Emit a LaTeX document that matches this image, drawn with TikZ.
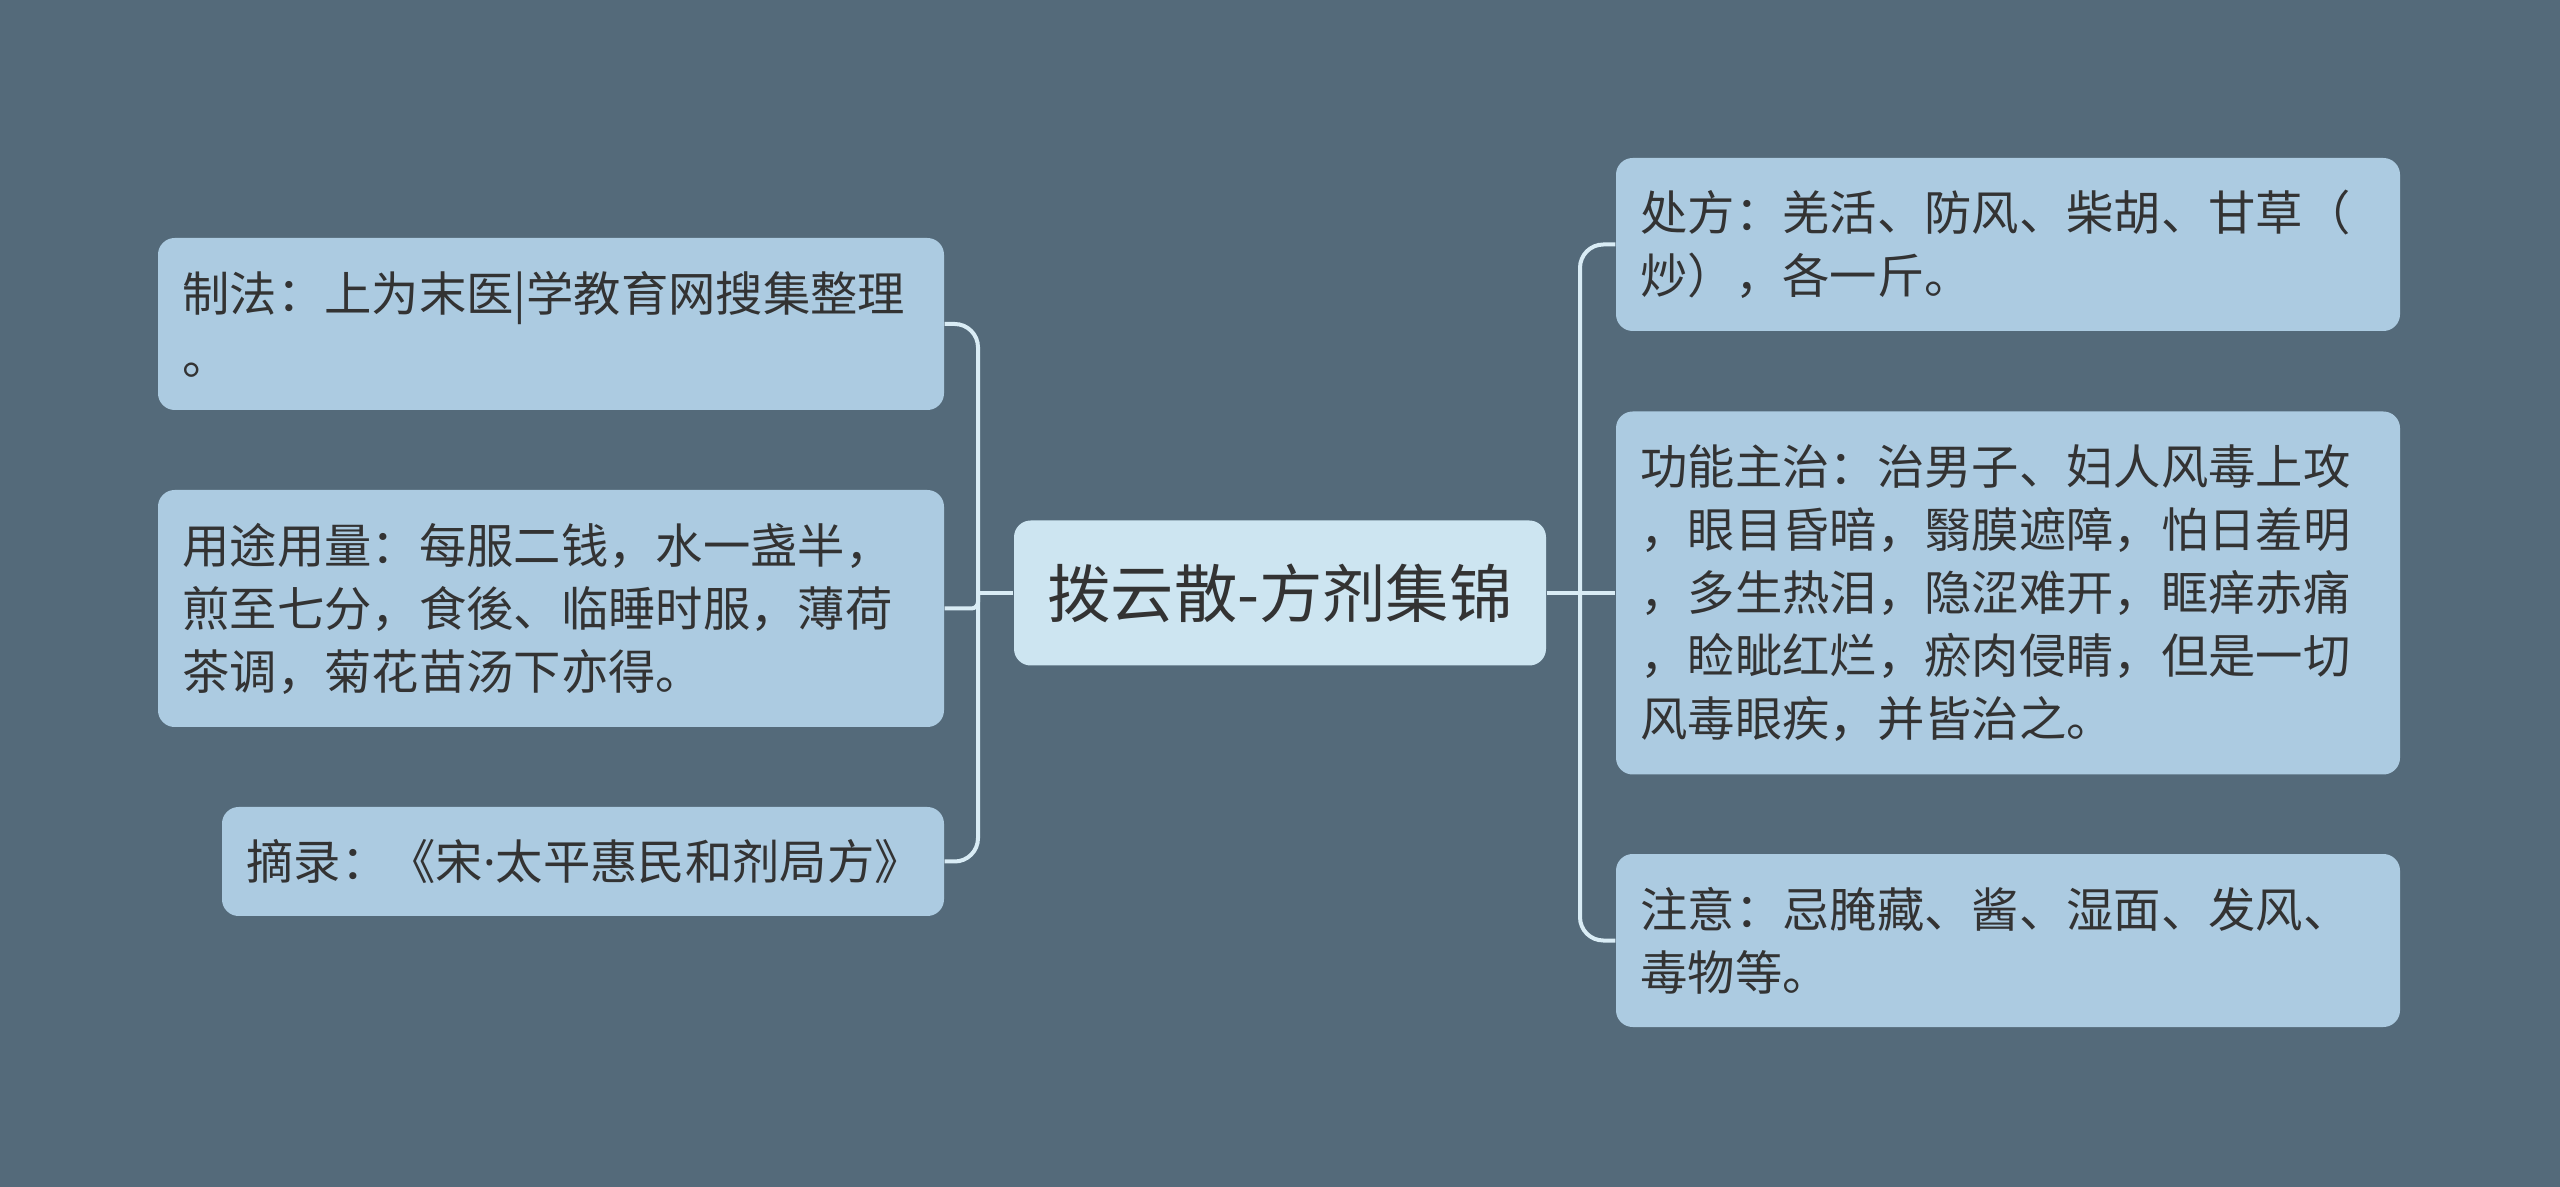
\documentclass[tikz,border=0pt]{standalone}
\usepackage{fontspec}
\setmainfont{Noto Sans CJK SC}
\newfontfamily\latinfont{Noto Sans}
\usepackage{tikz}

\definecolor{bg}{HTML}{546A7A}
\definecolor{leaf}{HTML}{ACCBE1}
\definecolor{rootfill}{HTML}{CDE5F1}
\definecolor{ink}{HTML}{333333}
\definecolor{wirecol}{HTML}{D9ECF5}

\begin{document}
\begin{tikzpicture}[x=0.3pt,y=-0.3pt,
  leafbox/.style={fill=leaf,rounded corners=5pt,inner xsep=7.35pt,inner ysep=0pt,text=ink,align=left,
    font=\fontsize{14.2}{18.9}\selectfont,text width=221.1pt,minimum width=235.8pt},
  rootbox/.style={fill=rootfill,rounded corners=5pt,text=ink,font=\fontsize{19}{22}\selectfont,
    minimum width=159.6pt,minimum height=43.5pt},
  wire/.style={draw=wirecol,line width=1.2pt,rounded corners=7pt}]
\fill[bg] (0,0) rectangle (2560,1187);
\node[rootbox] (root) at (1280,593) {拨云散-方剂集锦};
\node[leafbox,minimum height=51.6pt] (zhifa) at (551,324) {制法：上为末医|学教育网搜集整理\\。};
\node[leafbox,minimum height=71.1pt] (yongtu) at (551,608.5) {用途用量：每服二钱，水一盏半，\\煎至七分，食後、临睡时服，薄荷\\茶调，菊花苗汤下亦得。};
\node[leafbox,text width=201.9pt,minimum width=216.6pt,minimum height=32.7pt] (zhailu) at (583,861.5) {摘录：《宋{\latinfont ·}太平惠民和剂局方》};
\node[leafbox,text width=220.5pt,minimum width=235.2pt,minimum height=51.9pt] (chufang) at (2008,244.5) {处方：羌活、防风、柴胡、甘草（\\炒），各一斤。};
\node[leafbox,text width=220.5pt,minimum width=235.2pt,minimum height=108.9pt] (gongneng) at (2008,593) {功能主治：治男子、妇人风毒上攻\\，眼目昏暗，翳膜遮障，怕日羞明\\，多生热泪，隐涩难开，眶痒赤痛\\，睑眦红烂，瘀肉侵睛，但是一切\\风毒眼疾，并皆治之。};
\node[leafbox,text width=220.5pt,minimum width=235.2pt,minimum height=51.9pt] (zhuyi) at (2008,940.5) {注意：忌腌藏、酱、湿面、发风、\\毒物等。};
\coordinate (lt) at (978,593);
\coordinate (rt) at (1580,593);
\draw[wire] (root.west) -- (lt);
\draw[wire] (lt) |- (zhifa.east);
\draw[wire,rounded corners=2pt] (lt) |- (yongtu.east);
\draw[wire] (lt) |- (zhailu.east);
\draw[wire] (root.east) -- (rt);
\draw[wire] (rt) |- (chufang.west);
\draw[wire] (rt) -- (gongneng.west);
\draw[wire] (rt) |- (zhuyi.west);
\end{tikzpicture}
\end{document}
